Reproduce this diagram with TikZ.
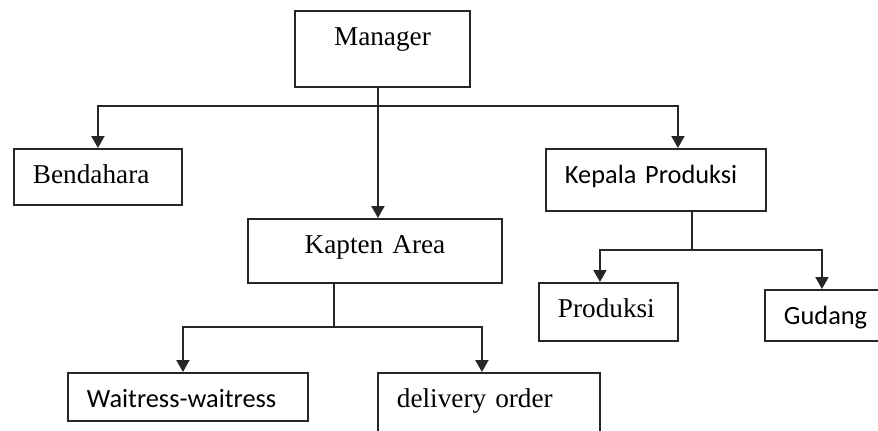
\documentclass[tikz,border=0pt]{standalone}
\usepackage{fontspec}
\setmainfont{Liberation Serif}
\newfontfamily\calibri{Carlito}
\usetikzlibrary{arrows.meta}
\definecolor{orgInk}{HTML}{262626}
\tikzset{
  box/.style={draw=orgInk,line width=1.1pt,anchor=north west,inner ysep=0pt,
    inner xsep=.38cm,text height=.7cm,align=left,text=black},
  serifbox/.style={box,font=\fontsize{15.5}{18}\selectfont},
  sansbox/.style={box,font=\calibri\fontsize{15}{18}\selectfont},
  plain/.style={draw=orgInk,line width=1.1pt},
  link/.style={plain,-{Triangle[length=2.4mm,width=2.6mm]}},
}

\begin{document}
\begin{tikzpicture}[x=.02cm,y=-.02cm]
  \useasboundingbox (0,0) rectangle (878,430);
  \fill[white] (0,0) rectangle (878,430);
  \clip (0,0) rectangle (878,430);
  \node[serifbox,align=center,text width=2.74cm,text depth=.82cm] (manager) at (294,10) {Manager};
  \node[serifbox,text width=2.6cm,text depth=.42cm] (bendahara) at (13,148) {Bendahara};
  \node[sansbox,text width=3.64cm,text depth=.54cm] (kepala) at (545,148) {Kepala Produksi};
  \node[serifbox,align=center,text width=4.32cm,text depth=.58cm] (kapten) at (247,218) {Kapten Area};
  \node[sansbox,text width=4.04cm,text depth=.26cm] (waitress) at (67,372) {Waitress-waitress};
  \node[serifbox,text width=3.68cm,text depth=.5cm] (delivery) at (377,372) {delivery order};
  \node[serifbox,text width=2.02cm,text depth=.46cm] (produksi) at (538,282) {Produksi};
  \node[sansbox,text width=1.64cm,text depth=.32cm] (gudang) at (764,289) {Gudang};
  % manager level
  \draw[link] ([xshift=-.09cm]manager.south) -- ([xshift=-.09cm]manager.south |- kapten.north);
  \draw[link] ([xshift=-.09cm]manager.south) ++(0,18) -| (bendahara.north);
  \draw[link] ([xshift=-.09cm]manager.south) ++(0,18) -| ([xshift=.44cm]kepala.north);
  % kapten area
  \draw[plain] ([xshift=-.82cm]kapten.south) -- ++(0,43);
  \draw[link] ([xshift=-.82cm]kapten.south) ++(0,43) -| ([xshift=-.1cm]waitress.north);
  \draw[link] ([xshift=-.82cm]kapten.south) ++(0,43) -| ([xshift=-.14cm]delivery.north);
  % kepala produksi
  \draw[plain] ([xshift=.72cm]kepala.south) -- ++(0,38);
  \draw[link] ([xshift=.72cm]kepala.south) ++(0,38) -| ([xshift=-.17cm]produksi.north);
  \draw[link] ([xshift=.72cm]kepala.south) ++(0,38) -| ([xshift=-.06cm]gudang.north);
\end{tikzpicture}
\end{document}
